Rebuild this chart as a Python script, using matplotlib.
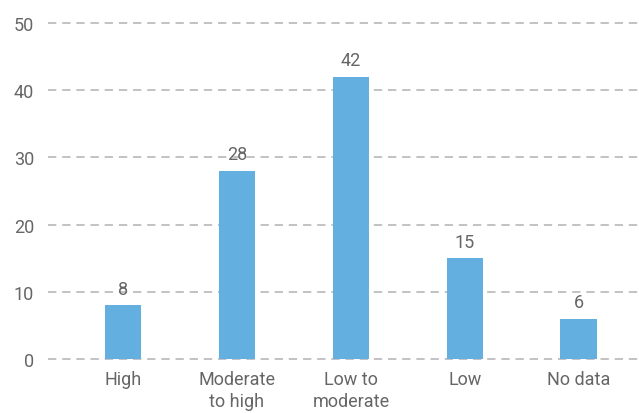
import numpy as np
import matplotlib
matplotlib.use("Agg")
import matplotlib.pyplot as plt

# data
categories = ['High', 'Moderate\nto high', 'Low to\nmoderate', 'Low', 'No data']
values = [8, 28, 42, 15, 6]
yticks = [0, 10, 20, 30, 40, 50]

plt.rcParams['font.family'] = ['Roboto', 'DejaVu Sans']

fig = plt.figure(figsize=(6.39, 4.14), dpi=100)
ax = fig.add_axes([0.075, 0.1304, 0.925, 0.8116])

x = np.arange(len(categories))
ax.bar(x, values, width=0.32, color='#63b0e0', zorder=3)

# value labels
for xi, v in zip(x, values):
    ax.text(xi, v + 1.1, str(v), ha='center', va='bottom', fontsize=13, color='#666666')

ax.set_xlim(-0.66, 4.53)
ax.set_ylim(0, 50)
ax.set_yticks(yticks)
ax.set_xticks(x)
ax.set_xticklabels(categories, fontsize=13, color='#666666', linespacing=1.25)
ax.tick_params(axis='y', labelsize=13, labelcolor='#666666', length=0, pad=10)
ax.tick_params(axis='x', length=0, pad=8)

ax.yaxis.grid(True, linestyle=(0, (5, 3.5)), color='#b8b8b8', linewidth=1.2, zorder=0)
for gl in ax.yaxis.get_gridlines():
    gl.set_clip_on(False)
ax.set_axisbelow(True)
for s in ax.spines.values():
    s.set_visible(False)

plt.savefig("out.png", dpi=100)
